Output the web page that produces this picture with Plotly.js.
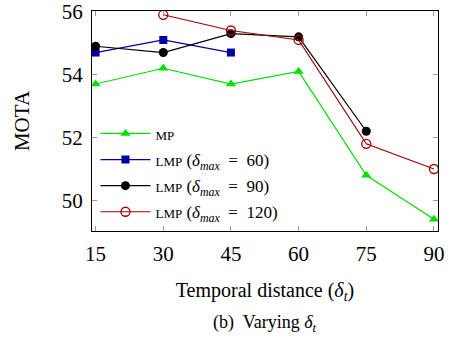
<!DOCTYPE html>
<html>
<head>
<meta charset="utf-8">
<script src="https://cdn.plot.ly/plotly-3.0.1.min.js"></script>
<style>html,body{margin:0;padding:0;background:#fff;}#chart{width:450px;height:339px;}</style>
</head>
<body>
<div id="chart"></div>
<script>
const xMP = [15, 30, 45, 60, 75, 90];
const yMP = [53.7, 54.2, 53.7, 54.1, 50.8, 49.4];
const x60 = [15, 30, 45];
const y60 = [54.7, 55.1, 54.7];
const x90 = [15, 30, 45, 60, 75];
const y90 = [54.9, 54.7, 55.3, 55.2, 52.2];
const x120 = [30, 45, 60, 75, 90];
const y120 = [55.9, 55.4, 55.1, 51.8, 51.0];
const xTicks = [15, 30, 45, 60, 75, 90];
const yTicks = [50, 52, 54, 56];

const serif = "Liberation Serif";
const lmp = (v) => '<span style="font-size:13px">LMP</span> (<i>δ</i><sub><i>max</i></sub>\u00a0\u00a0=\u00a0\u00a0' + v + ')';

const traces = [
  {x: xMP, y: yMP, name: '<span style="font-size:13px">MP</span>', mode: 'lines+markers', legendgroup: 'a',
   line: {color: '#00e000', width: 1.2}, marker: {symbol: 'triangle-up', size: 9, color: '#00e000'}},
  {x: x60, y: y60, name: lmp(60), mode: 'lines+markers', legendgroup: 'b',
   line: {color: '#0000a0', width: 1.2}, marker: {symbol: 'square', size: 8, color: '#0000a0'}},
  {x: x90, y: y90, name: lmp(90), mode: 'lines+markers', legendgroup: 'c',
   line: {color: '#000000', width: 1.2}, marker: {symbol: 'circle', size: 9, color: '#000000'}},
  {x: x120, y: y120, name: lmp(120), mode: 'lines+markers', legendgroup: 'd',
   line: {color: '#a00000', width: 1.2}, marker: {symbol: 'circle-open', size: 9, color: '#a00000', line: {width: 1.3}}}
];

const layout = {
  width: 450, height: 339,
  margin: {l: 92, r: 12, t: 11, b: 108},
  paper_bgcolor: '#fff', plot_bgcolor: '#fff',
  font: {family: serif, color: '#000', size: 20},
  showlegend: true,
  legend: {x: 0.01, y: 0.005, xanchor: 'left', yanchor: 'bottom', bgcolor: 'rgba(0,0,0,0)',
           font: {family: serif, size: 17, color: '#000'}, tracegroupgap: 1, itemwidth: 50},
  xaxis: {range: [14.2, 90.9], tickvals: xTicks, ticktext: xTicks.map(String),
          ticks: 'inside', ticklen: 5, tickcolor: '#999', mirror: 'ticks', ticklabelstandoff: 4,
          ticklabeloverflow: 'allow',
          showline: true, linecolor: '#000', linewidth: 1, showgrid: false, zeroline: false,
          tickfont: {family: serif, size: 21, color: '#000'},
          title: {text: 'Temporal distance (<i>δ</i><sub><i>t</i></sub>)', font: {family: serif, size: 20, color: '#000'}, standoff: 17}},
  yaxis: {range: [49.03, 56.02], tickvals: yTicks, ticktext: yTicks.map(String),
          ticks: 'inside', ticklen: 5, tickcolor: '#999', mirror: 'ticks', ticklabelstandoff: 4,
          ticklabeloverflow: 'allow',
          showline: true, linecolor: '#000', linewidth: 1, showgrid: false, zeroline: false,
          tickfont: {family: serif, size: 21, color: '#000'},
          title: {text: 'MOTA', font: {family: serif, size: 21, color: '#000'}, standoff: 26}},
  annotations: [{xref: 'paper', yref: 'paper', x: 0.5, y: -0.42, yanchor: 'middle', showarrow: false,
                 text: '(b)  Varying <i>δ</i><sub><i>t</i></sub>', font: {family: serif, size: 18, color: '#000'}}]
};

Plotly.newPlot('chart', traces, layout, {displayModeBar: false, staticPlot: true});
</script>
</body>
</html>
